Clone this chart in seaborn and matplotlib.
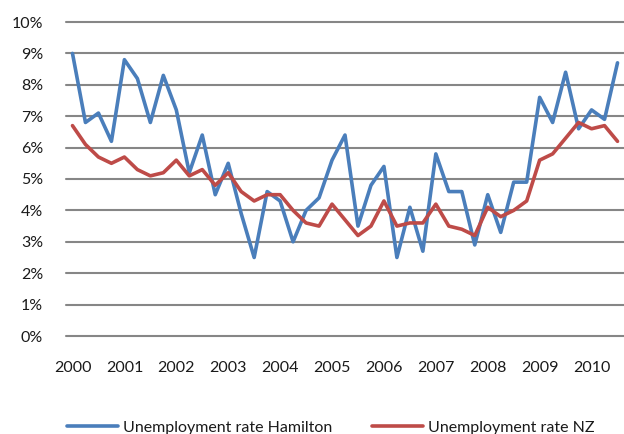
import matplotlib
matplotlib.use("Agg")
import matplotlib.pyplot as plt
import seaborn as sns
import pandas as pd
import numpy as np

# Quarterly unemployment rates (%), 2000 Q1 onwards
hamilton = [9.0, 6.8, 7.1, 6.2, 8.8, 8.2, 6.8, 8.3, 7.2, 5.2, 6.4, 4.5, 5.5, 3.9,
            2.5, 4.6, 4.3, 3.0, 4.0, 4.4, 5.6, 6.4, 3.5, 4.8, 5.4, 2.5, 4.1, 2.7,
            5.8, 4.6, 4.6, 2.9, 4.5, 3.3, 4.9, 4.9, 7.6, 6.8, 8.4, 6.6, 7.2, 6.9, 8.7]
nz = [6.7, 6.1, 5.7, 5.5, 5.7, 5.3, 5.1, 5.2, 5.6, 5.1, 5.3, 4.8, 5.2, 4.6,
      4.3, 4.5, 4.5, 4.0, 3.6, 3.5, 4.2, 3.7, 3.2, 3.5, 4.3, 3.5, 3.6, 3.6,
      4.2, 3.5, 3.4, 3.2, 4.1, 3.8, 4.0, 4.3, 5.6, 5.8, 6.3, 6.8, 6.6, 6.7, 6.2]
year_labels = ["2000", "2001", "2002", "2003", "2004", "2005",
               "2006", "2007", "2008", "2009", "2010"]
series_names = ["Unemployment rate Hamilton", "Unemployment rate NZ"]

quarter = np.arange(len(hamilton))
df = pd.DataFrame({
    "quarter": np.concatenate([quarter, quarter]),
    "rate": np.array(hamilton + nz) / 100.0,
    "series": [series_names[0]] * len(hamilton) + [series_names[1]] * len(nz),
})

sns.set_style("white")
plt.rcParams["font.family"] = ["Lato", "DejaVu Sans"]

fig = plt.figure(figsize=(6.24, 4.34), dpi=100)
ax = fig.add_axes([66 / 624, 98 / 434, 558 / 624, 314 / 434])

sns.lineplot(data=df, x="quarter", y="rate", hue="series",
             palette=["#4A7EBB", "#BE4B48"], linewidth=2.6,
             ax=ax, legend=False, zorder=3)

ax.set_xlim(-0.5, len(hamilton) - 0.5)
ax.set_ylim(0, 0.10)
ax.set_yticks(np.arange(0, 0.101, 0.01))
ax.set_yticklabels([f"{i}%" for i in range(11)])
ax.set_xticks(np.arange(0, len(year_labels) * 4, 4))
ax.set_xticklabels(year_labels)

ax.yaxis.grid(True, color="#868686", linewidth=1.5)
ax.xaxis.grid(False)
for gl in ax.get_ygridlines():
    gl.set_clip_on(False)
for s in ax.spines.values():
    s.set_visible(False)

ax.tick_params(axis="both", length=0, labelsize=11.5, labelcolor="#1a1a1a")
ax.tick_params(axis="y", pad=16.5)
ax.tick_params(axis="x", pad=18)
ax.set_xlabel("")
ax.set_ylabel("")

handles = [plt.Line2D([], [], color="#4A7EBB", linewidth=2.6),
           plt.Line2D([], [], color="#BE4B48", linewidth=2.6)]
fig.legend(handles, series_names, loc="center", bbox_to_anchor=(0.53, 0.015),
           ncol=2, frameon=False, fontsize=11.5, handlelength=3.2,
           handletextpad=0.3, columnspacing=2.5, labelcolor="#1a1a1a")

fig.savefig("out.png", dpi=100)
